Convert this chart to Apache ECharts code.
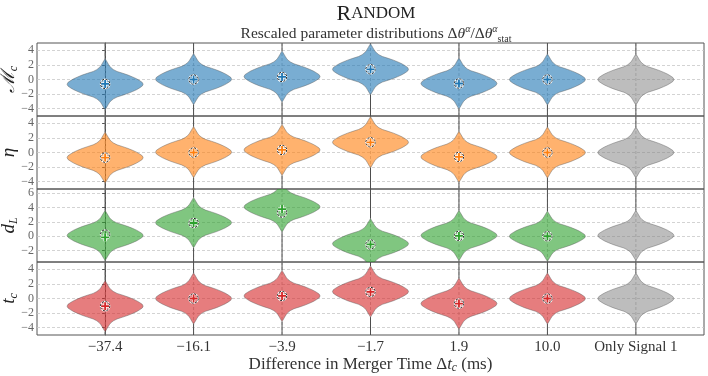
<!DOCTYPE html>
<html>
<head>
<meta charset="utf-8">
<script src="https://cdn.jsdelivr.net/npm/echarts@6/dist/echarts.min.js"></script>
<style>
    html, body { margin: 0; padding: 0; background: #fff; }
    #violins { width: 708px; height: 376px; }
</style>
</head>
<body>
<div id="violins"></div>
<script>

// Chart data
// ------------------------------

var categories = ['\u221237.4', '\u221216.1', '\u22123.9', '\u22121.7', '1.9', '10.0', 'Only Signal 1'];

// violin centres (widest point), one per column
var centerMc  = [-0.65, 0.05, 0.4, 1.4, -0.55, 0.0, 0.0];
var centerEta = [-0.7, 0.05, 0.35, 1.4, -0.6, 0.0, 0.0];
var centerDL  = [0.1, 1.9, 4.1, -1.05, 0.1, 0.0, 0.1];
var centerTc  = [-1.05, 0.0, 0.35, 0.95, -0.7, 0.0, 0.0];

// '+' markers (no marker for "Only Signal 1")
var plusMc  = [-0.6, 0.0, 0.35, 1.4, -0.55, 0.0];
var plusEta = [-0.7, 0.0, 0.35, 1.4, -0.6, 0.0];
var plusDL  = [-0.15, 1.85, 3.8, -1.15, 0.05, 0.0];
var plusTc  = [-1.05, 0.0, 0.35, 0.9, -0.7, 0.0];

// dashed circle markers
var circleMc  = [-0.6, 0.0, 0.35, 1.4, -0.55, 0.0];
var circleEta = [-0.7, 0.0, 0.35, 1.4, -0.6, 0.0];
var circleDL  = [0.25, 1.85, 3.3, -1.15, 0.05, 0.0];
var circleTc  = [-1.05, 0.0, 0.35, 0.9, -0.7, 0.0];

// shared violin profile: offset from centre -> half width (in column units)
var profileOffset = [0, 0.25, 0.5, 0.75, 1.0, 1.25, 1.5, 1.75, 2.0, 2.25, 2.5, 2.75, 3.0, 3.25, 3.5];
var profileWidth  = [0.43, 0.42, 0.39, 0.355, 0.31, 0.26, 0.2, 0.135, 0.095, 0.068, 0.05, 0.037, 0.025, 0.013, 0.0];

// axis ranges and ticks per row
var rowMin = [-5, -5, -3.6, -5];
var rowMax = [5, 5, 6.6, 5];
var ticksDefault = [-4, -2, 0, 2, 4];
var ticksDL = [-2, 0, 2, 4, 6];


// Setup
// ------------------------------

var rows = [
    { centers: centerMc,  plus: plusMc,  circle: circleMc,  color: [31, 119, 180],  ticks: ticksDefault, name: '{i|\u2133}{s|c}' },
    { centers: centerEta, plus: plusEta, circle: circleEta, color: [255, 127, 14],  ticks: ticksDefault, name: '{i|\u03b7}' },
    { centers: centerDL,  plus: plusDL,  circle: circleDL,  color: [44, 160, 44],   ticks: ticksDL,      name: '{i|d}{s|L}' },
    { centers: centerTc,  plus: plusTc,  circle: circleTc,  color: [214, 39, 40],   ticks: ticksDefault, name: '{i|t}{s|c}' }
];

var serif = '"Liberation Serif", "DejaVu Serif", serif';
var gridTops = [43, 116, 189, 262];
var gridHeight = 73;
var xMin = -0.77, xMax = 6.77;

var minusFmt = function(v) {
    return v < 0 ? '\u2212' + (-v) : String(v);
};

var makeRender = function(rowIdx) {
    var row = rows[rowIdx];
    var lo = rowMin[rowIdx], hi = rowMax[rowIdx];
    return function(params, api) {
        var col = api.value(0);
        var c = api.value(1);
        var isGray = col === categories.length - 1;
        var rgb = isGray ? [128, 128, 128] : row.color;
        var tip = profileOffset[profileOffset.length - 1];

        // violin outline: right side top->bottom, left side bottom->top
        var right = [], left = [];
        for (var i = profileOffset.length - 1; i >= 0; i--) {
            right.push(api.coord([col + profileWidth[i], c + profileOffset[i]]));
        }
        for (var j = 1; j < profileOffset.length; j++) {
            right.push(api.coord([col + profileWidth[j], c - profileOffset[j]]));
        }
        var mid = api.coord([col, lo]);
        for (var k = right.length - 1; k >= 0; k--) {
            var p = right[k];
            left.push([2 * mid[0] - p[0], p[1]]);
        }
        var outline = right.concat(left);

        var seg = function(y1, y2) {
            var a = api.coord([col, y1]), b = api.coord([col, y2]);
            return { x1: a[0], y1: a[1], x2: b[0], y2: b[1] };
        };

        var children = [
            { type: 'line', shape: seg(lo, hi), style: { stroke: '#b4b4b4', lineWidth: 0.8, lineDash: [3, 2] } },
            { type: 'line', shape: seg(lo, c - tip), style: { stroke: '#4d4d4d', lineWidth: 1 } },
            { type: 'line', shape: seg(c + tip, hi), style: { stroke: '#4d4d4d', lineWidth: 1 } },
            {
                type: 'polygon',
                shape: { points: outline },
                style: {
                    fill: 'rgba(' + rgb.join(',') + ',' + (isGray ? 0.52 : 0.6) + ')',
                    stroke: 'rgba(90,90,90,0.55)',
                    lineWidth: 0.8
                }
            }
        ];

        if (!isGray) {
            var pc = api.coord([col, api.value(3)]);
            var pp = api.coord([col, api.value(2)]);
            var arm = 4;
            var plusPath = 'M' + (pp[0] - arm) + ' ' + pp[1] + 'L' + (pp[0] + arm) + ' ' + pp[1] +
                'M' + pp[0] + ' ' + (pp[1] - arm) + 'L' + pp[0] + ' ' + (pp[1] + arm);
            children.push(
                { type: 'circle', shape: { cx: pc[0], cy: pc[1], r: 4.6 }, style: { fill: 'none', stroke: '#ffffff', lineWidth: 1.4 } },
                { type: 'circle', shape: { cx: pc[0], cy: pc[1], r: 4.6 }, style: { fill: 'none', stroke: '#111', lineWidth: 1, lineDash: [2, 1.6] } },
                { type: 'path', shape: { pathData: plusPath }, style: { fill: 'none', stroke: '#ffffff', lineWidth: 3.2 } },
                { type: 'path', shape: { pathData: plusPath }, style: { fill: 'none', stroke: 'rgb(' + row.color.join(',') + ')', lineWidth: 1.8 } }
            );
        }

        return { type: 'group', children: children };
    };
};

var grids = [], xAxes = [], yAxes = [], series = [];

rows.forEach(function(row, r) {
    grids.push({
        left: 37,
        right: 4,
        top: gridTops[r],
        height: gridHeight,
        containLabel: false,
        outerBoundsMode: 'none',
        show: true,
        borderColor: '#555',
        borderWidth: 1
    });

    xAxes.push({
        type: 'value',
        gridIndex: r,
        min: xMin,
        max: xMax,
        axisLine: { show: false },
        axisTick: { show: false },
        splitLine: { show: false },
        axisLabel: {
            show: r === rows.length - 1,
            customValues: [0, 1, 2, 3, 4, 5, 6],
            formatter: function(v) { return categories[Math.round(v)]; },
            fontFamily: serif,
            fontSize: 15,
            color: '#333',
            margin: 5
        },
        name: r === rows.length - 1 ? '{n|Difference in Merger Time \u0394}{i|t}{s|c}{n| (ms)}' : '',
        nameLocation: 'middle',
        nameGap: 18,
        nameTextStyle: {
            rich: {
                n: { fontFamily: serif, fontSize: 17, color: '#333', lineHeight: 20 },
                i: { fontFamily: serif, fontSize: 17, fontStyle: 'italic', color: '#333', lineHeight: 20 },
                s: { fontFamily: serif, fontSize: 11.5, fontStyle: 'italic', color: '#333', lineHeight: 14, verticalAlign: 'bottom' }
            }
        }
    });

    yAxes.push({
        type: 'value',
        gridIndex: r,
        min: rowMin[r],
        max: rowMax[r],
        axisLine: { show: true, lineStyle: { color: '#555' } },
        axisTick: { show: true, length: 3, customValues: row.ticks, lineStyle: { color: '#555' } },
        axisLabel: {
            customValues: row.ticks,
            formatter: minusFmt,
            fontFamily: serif,
            fontSize: 12,
            color: '#666',
            margin: 3
        },
        splitLine: { show: true, lineStyle: { color: '#c8c8c8', type: [3, 2], width: 0.8 } },
        name: row.name,
        nameLocation: 'middle',
        nameRotate: 90,
        nameMoveOverlap: false,
        nameGap: 17,
        nameTextStyle: {
            rich: {
                i: { fontFamily: serif, fontSize: 19, fontStyle: 'italic', color: '#222', lineHeight: 22 },
                s: { fontFamily: serif, fontSize: 12, fontStyle: 'italic', color: '#222', lineHeight: 14, verticalAlign: 'bottom' }
            }
        }
    });

    var data = row.centers.map(function(c, i) {
        return [i, c, i < row.plus.length ? row.plus[i] : c, i < row.circle.length ? row.circle[i] : c];
    });

    series.push({
        type: 'custom',
        xAxisIndex: r,
        yAxisIndex: r,
        clip: true,
        silent: true,
        renderItem: makeRender(r),
        data: data
    });
});


// Initialize chart
// ------------------------------

var chart = echarts.init(document.getElementById('violins'));

chart.setOption({
    animation: false,
    title: [
        {
            text: '{a|R}{b|ANDOM}',
            left: 371,
            top: -2,
            textAlign: 'center',
            textStyle: {
                fontWeight: 'normal',
                rich: {
                    a: { fontFamily: serif, fontSize: 22, fontWeight: 'normal', color: '#222' },
                    b: { fontFamily: serif, fontSize: 17, fontWeight: 'normal', color: '#222' }
                }
            }
        },
        {
            text: '{n|Rescaled parameter distributions \u0394}{i|\u03b8}{p|\u03b1}{n|/\u0394}{i|\u03b8}{p|\u03b1}{s|stat}',
            left: 371,
            top: 19,
            textAlign: 'center',
            textStyle: {
                fontWeight: 'normal',
                rich: {
                    n: { fontFamily: serif, fontSize: 15.5, fontWeight: 'normal', color: '#333', lineHeight: 20 },
                    i: { fontFamily: serif, fontSize: 15.5, fontWeight: 'normal', fontStyle: 'italic', color: '#333', lineHeight: 20 },
                    p: { fontFamily: serif, fontSize: 10, fontWeight: 'normal', fontStyle: 'italic', color: '#333', lineHeight: 12, verticalAlign: 'top' },
                    s: { fontFamily: serif, fontSize: 10, fontWeight: 'normal', color: '#333', lineHeight: 12, verticalAlign: 'bottom' }
                }
            }
        }
    ],
    grid: grids,
    xAxis: xAxes,
    yAxis: yAxes,
    series: series
});

window.addEventListener('resize', function() {
    chart.resize();
});
</script>
</body>
</html>
